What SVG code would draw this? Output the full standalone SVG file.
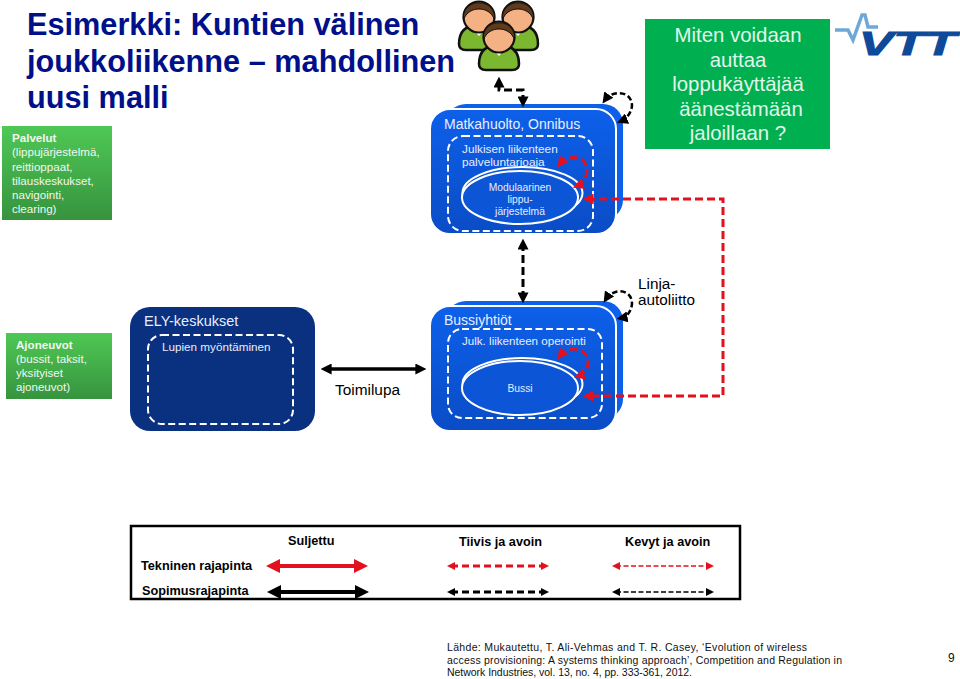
<svg xmlns="http://www.w3.org/2000/svg" width="960" height="679" viewBox="0 0 960 679">
<style>
text{font-family:"Liberation Sans",Arial,sans-serif}
.title{font-size:30.7px;font-weight:bold;fill:#000f8a}
.w{fill:#e6eeff}
.gt{font-size:11.6px;fill:#f0f7f0}
.wd{fill:none;stroke:#fff;stroke-width:2;stroke-dasharray:7 3.5}
.we{fill:#0b55d6;stroke:#fff;stroke-width:2}
.leg{font-size:12.7px;font-weight:bold;fill:#000}
.rd{fill:none;stroke:#e3101f;stroke-width:3;stroke-dasharray:8 4}
.bd{fill:none;stroke:#000;stroke-width:3;stroke-dasharray:8 4}
.bt{fill:none;stroke:#000;stroke-width:2.5;stroke-dasharray:5.5 3}
.ref{font-size:10.5px;fill:#111}
</style>
<defs>
<linearGradient id="gG" x1="0" y1="0" x2="0" y2="1"><stop offset="0" stop-color="#4fc855"/><stop offset="1" stop-color="#37933e"/></linearGradient>
<linearGradient id="gB" x1="0" y1="0" x2="0" y2="1"><stop offset="0" stop-color="#0d60ea"/><stop offset="1" stop-color="#0a4cc6"/></linearGradient>
<marker id="aR" viewBox="0 0 10 10" refX="6" refY="5" markerUnits="userSpaceOnUse" markerWidth="11" markerHeight="11" orient="auto-start-reverse"><path d="M0 0L10 5L0 10z" fill="#e3101f"/></marker>
<marker id="aK" viewBox="0 0 10 10" refX="6" refY="5" markerUnits="userSpaceOnUse" markerWidth="11" markerHeight="11" orient="auto-start-reverse"><path d="M0 0L10 5L0 10z" fill="#000"/></marker>
<marker id="aRl" viewBox="0 0 10 10" refX="5" refY="5" markerUnits="userSpaceOnUse" markerWidth="14" markerHeight="14" orient="auto-start-reverse"><path d="M0 0L10 5L0 10z" fill="#e3101f"/></marker>
<marker id="aKl" viewBox="0 0 10 10" refX="5" refY="5" markerUnits="userSpaceOnUse" markerWidth="14" markerHeight="14" orient="auto-start-reverse"><path d="M0 0L10 5L0 10z" fill="#000"/></marker>
<marker id="aRs" viewBox="0 0 10 10" refX="5" refY="5" markerUnits="userSpaceOnUse" markerWidth="8" markerHeight="8" orient="auto-start-reverse"><path d="M0 0L10 5L0 10z" fill="#e3101f"/></marker>
<marker id="aKs" viewBox="0 0 10 10" refX="5" refY="5" markerUnits="userSpaceOnUse" markerWidth="8" markerHeight="8" orient="auto-start-reverse"><path d="M0 0L10 5L0 10z" fill="#000"/></marker>
<g id="person">
<path d="M-20 27C-20 12-10 8 0 8S20 12 20 27Q20 33 13 33H-13Q-20 33-20 27Z" fill="#7cb82f" stroke="#111" stroke-width="2.5"/>
<path d="M-7 11L0 19L7 11Z" fill="#fff"/>
<ellipse cx="0" cy="0" rx="15.5" ry="15.5" fill="#f4b183" stroke="#111" stroke-width="2.2"/>
<path d="M-15.5 3C-18-20 18-20 15.5 3C13-5 6-8 0-8S-13-5-15.5 3Z" fill="#5f3a1b" stroke="#111" stroke-width="1"/>
</g>
</defs>
<rect width="960" height="679" fill="#fff"/>

<g id="title"><text class="title" x="27" y="35">Esimerkki: Kuntien välinen</text><text class="title" x="27" y="72">joukkoliikenne – mahdollinen</text><text class="title" x="27" y="108">uusi malli</text></g>

<g id="palvelut"><rect x="2" y="126" width="110" height="94" fill="url(#gG)"/>
<text class="gt" x="12" y="142" font-weight="bold">Palvelut</text><text class="gt" x="12" y="156">(lippujärjestelmä,</text><text class="gt" x="12" y="171">reittioppaat,</text><text class="gt" x="12" y="185">tilauskeskukset,</text><text class="gt" x="12" y="199">navigointi,</text><text class="gt" x="12" y="213">clearing)</text></g>

<g id="ajoneuvot"><rect x="6" y="333" width="106" height="66" fill="url(#gG)"/>
<text class="gt" x="16" y="349" font-weight="bold">Ajoneuvot</text><text class="gt" x="16" y="363">(bussit, taksit,</text><text class="gt" x="16" y="377">yksityiset</text><text class="gt" x="16" y="391">ajoneuvot)</text></g>

<g id="ihmiset"><use href="#person" x="479" y="17"/><use href="#person" x="518" y="17"/><use href="#person" x="499" y="37"/></g>

<g id="matkahuolto">
<rect x="446" y="104" width="177" height="116" rx="20" fill="#0d60ea"/>
<rect x="430" y="109" width="186" height="125" rx="20" fill="url(#gB)" stroke="#fff" stroke-width="2"/>
<text class="w" x="444" y="129" font-size="14">Matkahuolto, Onnibus</text>
<rect x="448" y="136" width="145" height="95" rx="15" class="wd"/>
<text class="w" x="462" y="153" font-size="11.8">Julkisen liikenteen</text>
<text class="w" x="462" y="166" font-size="11.8">palveluntarjoaja</text>
<ellipse cx="522.5" cy="193" rx="60" ry="26" class="we"/>
<ellipse cx="520" cy="197.5" rx="58" ry="26.5" class="we"/>
<text class="w" x="520" y="191" font-size="10.3" text-anchor="middle">Modulaarinen</text>
<text class="w" x="520" y="203" font-size="10.3" text-anchor="middle">lippu-</text>
<text class="w" x="520" y="215" font-size="10.3" text-anchor="middle">järjestelmä</text>
</g>

<g id="ely">
<rect x="130" y="307" width="185" height="124" rx="20" fill="#0a3180"/>
<text class="w" x="144" y="326" font-size="14.5">ELY-keskukset</text>
<rect x="148" y="335" width="145" height="89" rx="14" class="wd"/>
<text class="w" x="162" y="351" font-size="11.7">Lupien myöntäminen</text>
</g>

<g id="bussiyhtiot">
<rect x="446" y="301" width="177" height="118" rx="20" fill="#0d60ea"/>
<rect x="430" y="306" width="186" height="125" rx="20" fill="url(#gB)" stroke="#fff" stroke-width="2"/>
<text class="w" x="444" y="325" font-size="14">Bussiyhtiöt</text>
<rect x="448" y="329" width="154" height="89" rx="14" class="wd"/>
<text class="w" x="462" y="345" font-size="11.6">Julk. liikenteen operointi</text>
<ellipse cx="522.5" cy="384" rx="60" ry="26" class="we"/>
<ellipse cx="520" cy="388" rx="58" ry="27" class="we"/>
<text class="w" x="520" y="392" font-size="10.3" text-anchor="middle">Bussi</text>
</g>

<g id="miten"><rect x="645" y="19" width="185" height="130" fill="#00b050"/>
<g font-size="20.4" fill="#e2f6ea" text-anchor="middle"><text x="738" y="42">Miten voidaan</text><text x="738" y="67">auttaa</text><text x="738" y="91">loppukäyttäjää</text><text x="741" y="116">äänestämään</text><text x="738" y="140">jaloillaan ?</text></g></g>

<g id="vtt">
<path d="M835 30H848L853 40L862 15H865L868 27H878" fill="none" stroke="#6fa8d8" stroke-width="3.5"/>
<text x="859" y="55" font-size="33" font-weight="bold" font-style="italic" fill="#0f4a9a" stroke="#0f4a9a" stroke-width="1" textLength="97" lengthAdjust="spacingAndGlyphs">VTT</text>
</g>

<g id="labels">
<text x="335" y="395" font-size="15.4" fill="#000">Toimilupa</text>
<text x="638" y="289" font-size="15.3" fill="#000">Linja-</text>
<text x="638" y="305" font-size="15.3" fill="#000">autoliitto</text>
</g>

<g id="connectors">
<path d="M523 103V90H499V81" class="bd" marker-start="url(#aK)" marker-end="url(#aK)"/>
<path d="M523 243V299" class="bd" marker-start="url(#aK)" marker-end="url(#aK)"/>
<path d="M325 369H422" fill="none" stroke="#000" stroke-width="3.5" marker-start="url(#aK)" marker-end="url(#aK)"/>
<path d="M605 100C612 90 632 90 632 106C631 114 626 119 621 121" class="bt" marker-start="url(#aK)" marker-end="url(#aK)"/>
<path d="M606 299C613 288 632 288 632 304C631 312 627 317 621 318" class="bt" marker-start="url(#aK)" marker-end="url(#aK)"/>
<path d="M560 164C567 154 587 155 587 170C587 178 582 184 577 186" class="rd" marker-start="url(#aR)" marker-end="url(#aR)"/>
<path d="M560 356C567 346 588 346 588 362C588 370 584 374 578 376" class="rd" marker-start="url(#aR)" marker-end="url(#aR)"/>
<path d="M587 199H723V396H587" class="rd" marker-start="url(#aR)" marker-end="url(#aR)"/>
</g>

<g id="legend">
<rect x="131" y="526" width="609" height="73" fill="none" stroke="#000" stroke-width="2.5"/>
<text class="leg" x="288" y="545">Suljettu</text><text class="leg" x="459" y="546">Tiivis ja avoin</text><text class="leg" x="625" y="546">Kevyt ja avoin</text>
<text class="leg" x="141" y="570">Tekninen rajapinta</text><text class="leg" x="142" y="595">Sopimusrajapinta</text>
<path d="M273 566H361" stroke="#e3101f" stroke-width="4" marker-start="url(#aRl)" marker-end="url(#aRl)"/>
<path d="M274 592H362" stroke="#000" stroke-width="4" marker-start="url(#aKl)" marker-end="url(#aKl)"/>
<path d="M451 566H545" stroke="#e3101f" stroke-width="3" stroke-dasharray="7 4" marker-start="url(#aRs)" marker-end="url(#aRs)"/>
<path d="M451 592H545" stroke="#000" stroke-width="3" stroke-dasharray="7 4" marker-start="url(#aKs)" marker-end="url(#aKs)"/>
<path d="M616 566H710" stroke="#e3101f" stroke-width="1.7" stroke-dasharray="5 2.5" marker-start="url(#aRs)" marker-end="url(#aRs)"/>
<path d="M616 592H710" stroke="#000" stroke-width="1.7" stroke-dasharray="5 2.5" marker-start="url(#aKs)" marker-end="url(#aKs)"/>
</g>

<g id="lahde">
<text class="ref" x="447" y="651" textLength="360" lengthAdjust="spacing">Lähde: Mukautettu, T. Ali-Vehmas and T. R. Casey, ‘Evolution of wireless</text>
<text class="ref" x="447" y="664" textLength="395" lengthAdjust="spacing">access provisioning: A systems thinking approach’, Competition and Regulation in</text>
<text class="ref" x="447" y="676" textLength="245" lengthAdjust="spacing">Network Industries, vol. 13, no. 4, pp. 333-361, 2012.</text>
<text x="948" y="662" font-size="12" fill="#111">9</text>
</g>
</svg>
